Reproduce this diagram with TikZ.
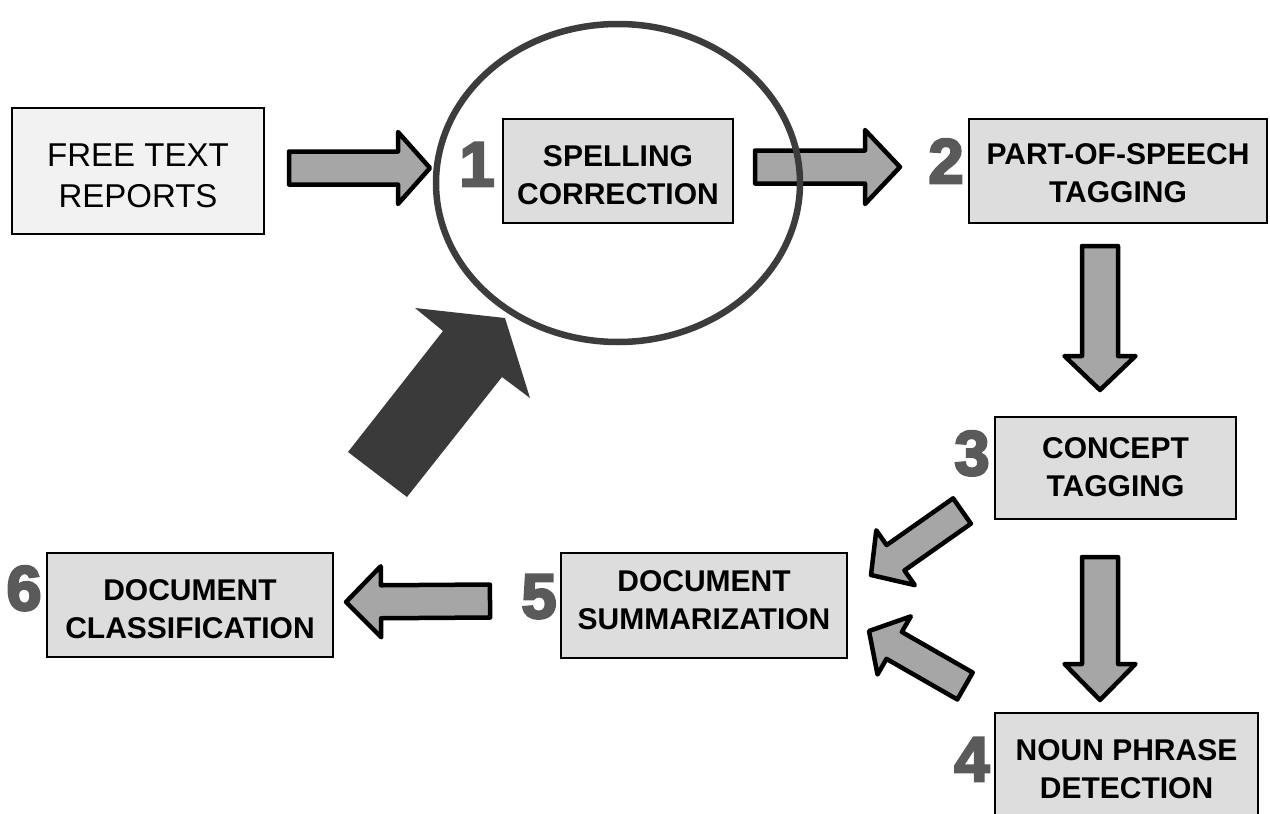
\documentclass[tikz,border=0pt]{standalone}
\usepackage{fontspec}
\setmainfont{Liberation Sans}
\newfontfamily\numfont{Liberation Sans Bold}[FakeBold=4]
\usetikzlibrary{calc}
\definecolor{boxgray}{HTML}{DDDDDD}
\definecolor{lightbox}{HTML}{F2F2F2}
\definecolor{arrgray}{HTML}{A6A6A6}
\definecolor{darkarr}{HTML}{3A3A3A}
\definecolor{numgray}{HTML}{5A5A5A}
\definecolor{ringgray}{HTML}{3C3C3C}
\tikzset{
  stepbox/.style={draw=black, line width=1.5, fill=boxgray, align=center, inner sep=0,
    text depth=0pt, font=\bfseries\fontsize{30}{38}\selectfont},
  startbox/.style={draw=black, line width=1.5, fill=lightbox, align=center, inner sep=0,
    text depth=0pt, font=\fontsize{33}{41}\selectfont},
  stepnum/.style={anchor=base, inner sep=0, text=numgray, font=\numfont\fontsize{63}{63}\selectfont},
  blk/.style={draw=black, line width=4.5, fill=arrgray, line join=round},
}
\newcommand\blockarr[5]{%
  \path (#1) coordinate (ba-s) (#2) coordinate (ba-e) ($(#2)!#5!(#1)$) coordinate (ba-h);
  \draw[blk] ($(ba-s)!#3!90:(ba-e)$) -- ($(ba-h)!#3!90:(ba-e)$) -- ($(ba-h)!#4!90:(ba-e)$)
    -- (ba-e) -- ($(ba-h)!#4!-90:(ba-e)$) -- ($(ba-h)!#3!-90:(ba-e)$)
    -- ($(ba-s)!#3!-90:(ba-e)$) -- cycle;}
\begin{document}
\begin{tikzpicture}[x=1pt,y=-1pt]
\useasboundingbox (0,0) rectangle (1270,814);
% boxes
\node[startbox, text height=72pt, minimum width=252, minimum height=126] (free) at (138,171) {FREE TEXT\\REPORTS};
\node[stepbox, text height=66pt, minimum width=230, minimum height=104] (spell) at (618,171) {SPELLING\\CORRECTION};
\node[stepbox, text height=62pt, minimum width=298, minimum height=104] (pos) at (1118,171) {PART-OF-SPEECH\\TAGGING};
\node[stepbox, text height=56pt, minimum width=241, minimum height=102] (concept) at (1115.5,468) {CONCEPT\\TAGGING};
\node[stepbox, text height=64pt, minimum width=263, minimum height=106] (noun) at (1126.5,766) {NOUN PHRASE\\DETECTION};
\node[stepbox, text height=48pt, minimum width=286, minimum height=105] (summ) at (704,605.5) {DOCUMENT\\SUMMARIZATION};
\node[stepbox, text height=66pt, minimum width=286, minimum height=104] (classif) at (190,605) {DOCUMENT\\CLASSIFICATION};
% numbers
\node[stepnum] (n1) at (477,186) {1};
\node[stepnum] (n2) at (946,183) {2};
\node[stepnum] (n3) at (972,475) {3};
\node[stepnum] (n4) at (972,781) {4};
\node[stepnum] (n5) at (539,618) {5};
\node[stepnum] (n6) at (24,610) {6};
% arrow end points
\coordinate (a1s) at (289,168); \coordinate (a1e) at (430,168);
\coordinate (a2s) at (755,167); \coordinate (a2e) at (900,167);
\coordinate (a3s) at (1100,246); \coordinate (a3e) at (1100,390);
\coordinate (a4s) at (1100,557); \coordinate (a4e) at (1100,700);
\coordinate (a5s) at (962,511); \coordinate (a5e) at (871,575);
\coordinate (a6s) at (965,686); \coordinate (a6e) at (869,631);
\coordinate (a7s) at (490,601); \coordinate (a7e) at (346,602);
\blockarr{a1s}{a1e}{16.5pt}{36pt}{32pt}
\blockarr{a2s}{a2e}{16.5pt}{37pt}{35pt}
\blockarr{a3s}{a3e}{18pt}{35.5pt}{34pt}
\blockarr{a4s}{a4e}{18pt}{35.5pt}{36pt}
\blockarr{a5s}{a5e}{15.5pt}{33.5pt}{30pt}
\blockarr{a6s}{a6e}{15.5pt}{33.5pt}{29pt}
\blockarr{a7s}{a7e}{16.5pt}{35.5pt}{35pt}
% big dark arrow
\fill[darkarr] (348,452) -- (443,331) -- (415,308) -- (505,318) -- (530,398) -- (502,377) -- (407,497) -- cycle;
% ring
\draw[ringgray, line width=6.5] (618,183) ellipse [x radius=182, y radius=159];
\end{tikzpicture}
\end{document}
